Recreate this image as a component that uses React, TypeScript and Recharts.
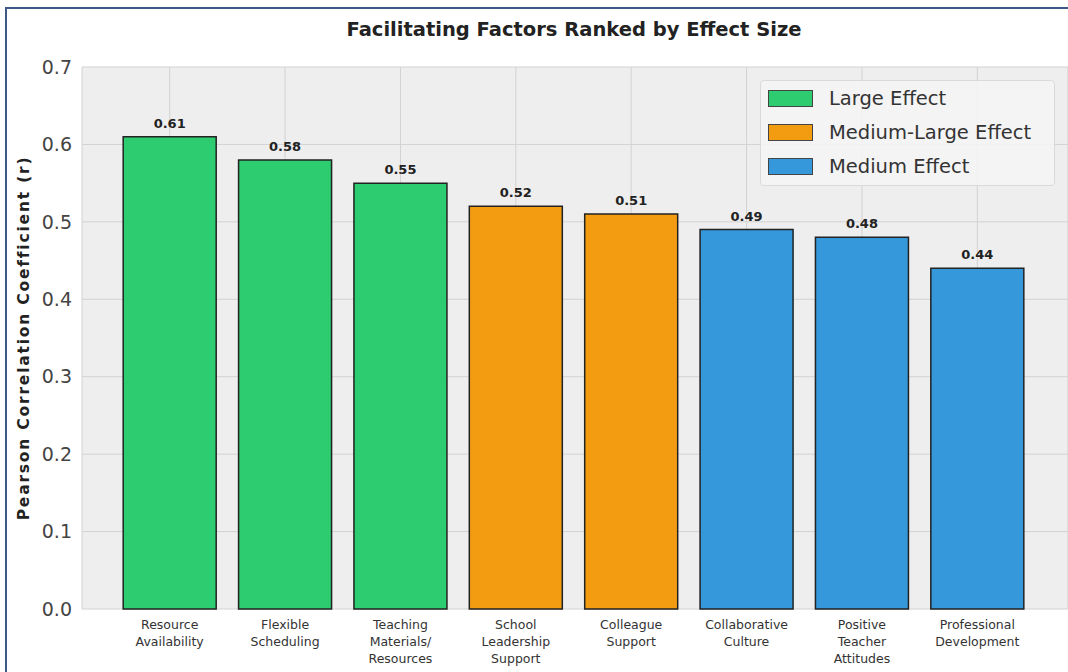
import { BarChart, Bar, Cell, XAxis, YAxis, CartesianGrid, LabelList } from 'recharts'

const FACTORS = [
  'Resource\nAvailability',
  'Flexible\nScheduling',
  'Teaching\nMaterials/\nResources',
  'School\nLeadership\nSupport',
  'Colleague\nSupport',
  'Collaborative\nCulture',
  'Positive\nTeacher\nAttitudes',
  'Professional\nDevelopment',
]
const CORRELATIONS = [0.61, 0.58, 0.55, 0.52, 0.51, 0.49, 0.48, 0.44]
const EFFECT_GROUPS = ['large', 'large', 'large', 'mediumLarge', 'mediumLarge', 'medium', 'medium', 'medium']
const Y_TICKS = [0, 0.1, 0.2, 0.3, 0.4, 0.5, 0.6, 0.7]

const GROUP_LEGEND = [
  { key: 'large', label: 'Large Effect', color: '#2ecc71' },
  { key: 'mediumLarge', label: 'Medium-Large Effect', color: '#f39c12' },
  { key: 'medium', label: 'Medium Effect', color: '#3498db' },
]

const FONT = '"DejaVu Sans", Verdana, sans-serif'

const GROUP_COLOR: Record<string, string> = Object.fromEntries(GROUP_LEGEND.map(g => [g.key, g.color]))

const chartData = FACTORS.map((name, i) => ({
  name,
  r: CORRELATIONS[i],
  group: EFFECT_GROUPS[i],
}))

// multi-line category labels under each bar
function FactorTick({ x, y, payload }: any) {
  const lines = String(payload.value).split('\n')
  return (
    <text x={x} y={y} textAnchor="middle" fontFamily={FONT} fontSize={12.5} fill="#333">
      {lines.map((line, i) => (
        <tspan key={i} x={x} dy={i === 0 ? 12 : 17}>{line}</tspan>
      ))}
    </text>
  )
}

function EffectLegend() {
  return (
    <div
      style={{
        position: 'absolute',
        left: 760,
        top: 80,
        background: 'rgba(244,244,244,0.9)',
        border: '1px solid #dadada',
        borderRadius: 4,
        padding: '0 8px 2px 7px',
        width: 278,
        fontFamily: FONT,
      }}
    >
      {GROUP_LEGEND.map(g => (
        <div key={g.key} style={{ display: 'flex', alignItems: 'center', height: 34 }}>
          <span
            style={{
              display: 'inline-block',
              width: 43,
              height: 15,
              background: g.color,
              border: '1px solid #444',
              marginRight: 16,
            }}
          />
          <span style={{ fontSize: 19.5, color: '#333' }}>{g.label}</span>
        </div>
      ))}
    </div>
  )
}

export default function App() {
  return (
    <div style={{ position: 'absolute', left: 0, top: 0, width: 1068, height: 672, background: '#fff', overflow: 'hidden' }}>
      <div
        style={{
          position: 'absolute',
          left: 5,
          top: 7,
          width: 1100,
          height: 700,
          borderLeft: '2px solid #3d5a86',
          borderTop: '2px solid #3d5a86',
        }}
      />
      <div
        style={{
          position: 'absolute',
          top: 18,
          left: 0,
          width: 1148,
          textAlign: 'center',
          fontFamily: FONT,
          fontWeight: 'bold',
          fontSize: 19.5,
          color: '#222',
        }}
      >
        Facilitating Factors Ranked by Effect Size
      </div>
      <div style={{ position: 'absolute', left: 0, top: 0 }}>
        <BarChart
          width={1068}
          height={672}
          data={chartData}
          margin={{ top: 67, right: 0, bottom: 0, left: 0 }}
          barCategoryGap="9.7%"
        >
          <CartesianGrid stroke="#d2d2d2" strokeWidth={1} fill="#eeeeee" fillOpacity={1} />
          <XAxis
            dataKey="name"
            height={63}
            interval={0}
            padding={{ left: 30, right: 33 }}
            axisLine={false}
            tickLine={false}
            tick={<FactorTick />}
          />
          <YAxis
            width={82}
            domain={[0, 0.7]}
            ticks={Y_TICKS}
            tickFormatter={(v: number) => v.toFixed(1)}
            axisLine={false}
            tickLine={false}
            tickSize={0}
            tickMargin={10}
            tick={{ fontSize: 19, fill: '#444', fontFamily: FONT }}
            label={{
              value: 'Pearson Correlation Coefficient (r)',
              angle: -90,
              position: 'insideLeft',
              offset: 0,
              dx: 23,
              style: {
                textAnchor: 'middle',
                fontSize: 15.5,
                letterSpacing: 1.8,
                fontWeight: 'bold',
                fill: '#222',
                fontFamily: FONT,
              },
            }}
          />
          <Bar dataKey="r" stroke="#222" strokeWidth={1.5} isAnimationActive={false}>
            {chartData.map((d, i) => (
              <Cell key={i} fill={GROUP_COLOR[d.group]} />
            ))}
            <LabelList
              dataKey="r"
              position="top"
              offset={9}
              formatter={(v: number) => v.toFixed(2)}
              style={{ fontSize: 13, fontWeight: 'bold', fill: '#222', fontFamily: FONT }}
            />
          </Bar>
        </BarChart>
      </div>
      <EffectLegend />
    </div>
  )
}
